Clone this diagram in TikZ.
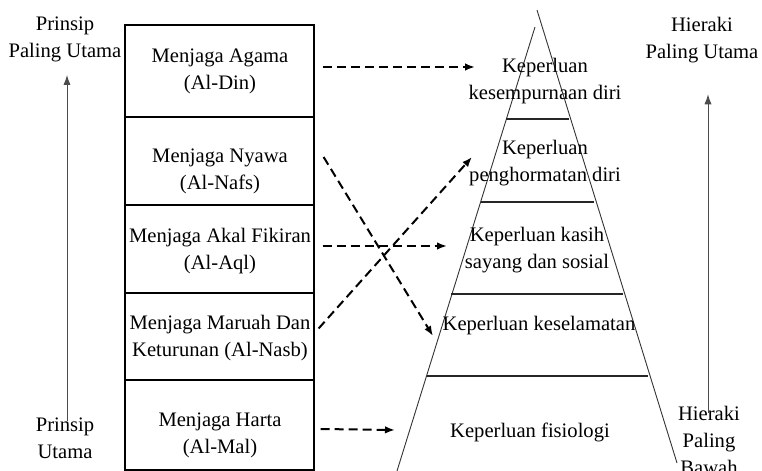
\documentclass[tikz,border=0pt]{standalone}
\usepackage{fontspec}
\setmainfont{Liberation Serif}
\usetikzlibrary{arrows.meta,calc,positioning}

\tikzset{
  cell/.style={draw, line width=0.6pt, minimum width=94.5pt, inner sep=0pt},
  lbl/.style={align=center, inner sep=0pt, font=\fontsize{10.3}{13.5}\selectfont},
  pyr/.style={line width=0.45pt, black!80},
  layer/.style={line width=0.6pt, black!85},
  dasharrow/.style={-{Latex[length=5pt,width=3.8pt]}, line width=1pt, dash pattern=on 4.5pt off 2.5pt},
  uparrow/.style={-{Latex[length=5pt,width=3.6pt]}, line width=0.5pt, black!70}
}

\begin{document}
\begin{tikzpicture}[x=0.5pt,y=-0.5pt]
    \useasboundingbox (0,0) rectangle (762,471);
    \clip (0,0) rectangle (762,471);

    % Prinsip (left column)
    \node[cell, minimum height=46pt] (agama) at (219.5,71) {};
    \node[cell, minimum height=44pt] (nyawa) at (219.5,161) {};
    \node[cell, minimum height=44pt] (akal) at (219.5,249) {};
    \node[cell, minimum height=43.5pt] (maruah) at (219.5,336.5) {};
    \node[cell, minimum height=45pt] (harta) at (219.5,425) {};

    \node[lbl] (agamaTxt) at (220,71.5) {Menjaga Agama\\(Al-Din)};
    \node[lbl] (nyawaTxt) at (220,171) {Menjaga Nyawa\\(Al-Nafs)};
    \node[lbl] (akalTxt) at (220,251) {Menjaga Akal Fikiran\\(Al-Aql)};
    \node[lbl] (maruahTxt) at (220,338) {Menjaga Maruah Dan\\Keturunan (Al-Nasb)};
    \node[lbl] (hartaTxt) at (220,435) {Menjaga Harta\\(Al-Mal)};

    % Pyramid
    \coordinate (apexL) at (535,27);
    \coordinate (apexR) at (537,10);
    \coordinate (baseL) at (397,471);
    \coordinate (baseR) at (677,463);
    \draw[pyr] (apexL) -- (baseL);
    \draw[pyr] (apexR) -- (baseR);
    \draw[layer] (506,119) -- (569,119);
    \draw[layer] (481,202) -- (594,202);
    \draw[layer] (451,294) -- (623,294);
    \draw[layer] (427,376) -- (648,376);

    \node[lbl] (kesemTxt) at (545,81) {Keperluan\\kesempurnaan diri};
    \node[lbl] (hormatTxt) at (545,163) {Keperluan\\penghormatan diri};
    \node[lbl] (kasihTxt) at (537,250) {Keperluan kasih\\sayang dan sosial};
    \node[lbl] (keselTxt) at (539,326) {Keperluan keselamatan};
    \node[lbl] (fisioTxt) at (530,432) {Keperluan fisiologi};

    % side labels
    \node[lbl] (prinsipTop) at (65,39) {Prinsip\\Paling Utama};
    \node[lbl] (prinsipBot) at (65,438) {Prinsip\\Utama};
    \node[lbl] (hierTop) at (702,40) {Hieraki\\Paling Utama};
    \node[lbl] (hierBot) at (709,440) {Hieraki\\Paling\\Bawah};

    \draw[uparrow] ($(prinsipBot.north)+(2,4)$) -- ($(prinsipTop.south)+(2,13)$);
    \draw[uparrow] ($(hierBot.north)+(-1,8)$) -- ($(hierTop.south)+(6,31)$);

    % mapping
    \draw[dasharrow] ($(agama.east)+(8,-4)$) -- ($(kesemTxt)+(-70,-14)$);
    \draw[dasharrow] ($(nyawa.east)+(9,-4)$) -- ($(keselTxt)+(-106,10)$);
    \draw[dasharrow] ($(akal.east)+(8,-3)$) -- ($(kasihTxt)+(-90,-4)$);
    \draw[dasharrow] ($(maruah.east)+(4,-8)$) -- ($(hormatTxt)+(-73,-6)$);
    \draw[dasharrow] ($(harta.east)+(6,4)$) -- ($(fisioTxt)+(-135,-2)$);
\end{tikzpicture}
\end{document}
